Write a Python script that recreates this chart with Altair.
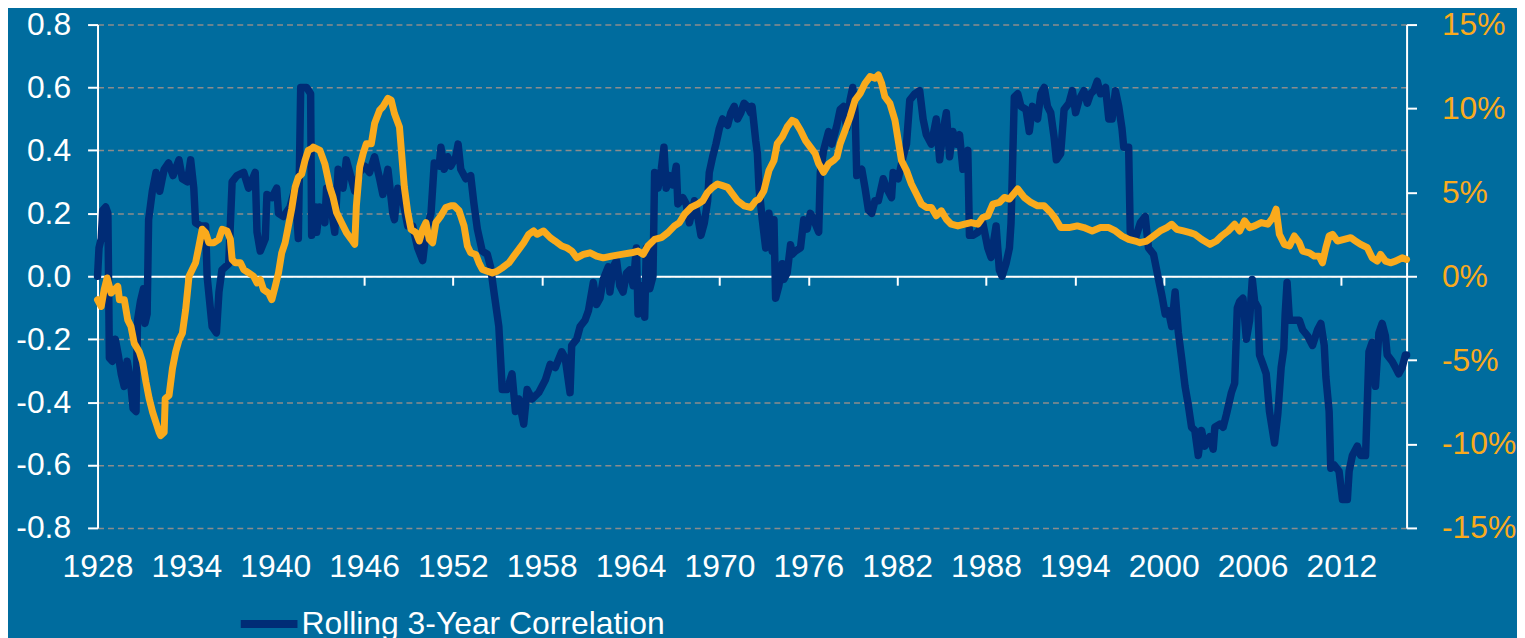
import altair as alt
import pandas as pd

# ---------------- data ----------------
corr_years = [
    1928.00, 1928.10, 1928.25, 1928.35, 1928.55, 1928.70, 1928.80, 1929.00, 1929.20, 1929.40,
    1929.60, 1929.80, 1930.00, 1930.20, 1930.40, 1930.60, 1930.70, 1930.90, 1931.10, 1931.20,
    1931.35, 1931.45, 1931.70, 1931.95, 1932.20, 1932.50, 1932.80, 1933.10, 1933.50, 1933.73,
    1934.07, 1934.29, 1934.50, 1934.62, 1934.96, 1935.30, 1935.40, 1935.74, 1936.03, 1936.20,
    1936.40, 1936.86, 1937.09, 1937.42, 1937.87, 1938.20, 1938.65, 1938.77, 1938.99, 1939.33,
    1939.44, 1939.77, 1940.10, 1940.22, 1940.56, 1941.00, 1941.34, 1941.56, 1941.72, 1942.12,
    1942.39, 1942.46, 1942.70, 1942.80, 1943.00, 1943.35, 1943.47, 1943.80, 1944.02, 1944.25,
    1944.58, 1944.80, 1945.14, 1945.37, 1945.70, 1946.04, 1946.37, 1946.71, 1947.05, 1947.27,
    1947.61, 1947.94, 1948.05, 1948.28, 1948.61, 1948.95, 1949.28, 1949.62, 1949.96, 1950.18,
    1950.52, 1950.74, 1951.07, 1951.19, 1951.41, 1951.64, 1951.86, 1952.19, 1952.35, 1952.53,
    1952.87, 1953.20, 1953.42, 1953.65, 1953.98, 1954.32, 1954.54, 1954.77, 1955.10, 1955.33,
    1955.66, 1955.99, 1956.22, 1956.45, 1956.78, 1957.01, 1957.34, 1957.79, 1958.24, 1958.57,
    1958.91, 1959.35, 1959.58, 1959.91, 1960.02, 1960.36, 1960.59, 1960.92, 1961.15, 1961.48,
    1961.70, 1961.93, 1962.15, 1962.49, 1962.60, 1962.82, 1963.05, 1963.27, 1963.49, 1963.72,
    1963.94, 1964.17, 1964.39, 1964.50, 1964.73, 1964.95, 1965.06, 1965.29, 1965.51, 1965.62,
    1965.85, 1966.07, 1966.25, 1966.40, 1966.63, 1966.85, 1967.08, 1967.19, 1967.52, 1967.75,
    1967.97, 1968.31, 1968.53, 1968.75, 1968.98, 1969.20, 1969.31, 1969.54, 1969.76, 1969.99,
    1970.21, 1970.55, 1970.77, 1971.00, 1971.22, 1971.44, 1971.66, 1971.89, 1972.11, 1972.20,
    1972.45, 1972.56, 1972.67, 1972.89, 1973.12, 1973.34, 1973.56, 1973.68, 1973.79, 1974.01,
    1974.24, 1974.35, 1974.57, 1974.80, 1974.91, 1975.13, 1975.47, 1975.69, 1975.92, 1976.14,
    1976.36, 1976.70, 1976.81, 1977.03, 1977.37, 1977.59, 1977.93, 1978.15, 1978.38, 1978.60,
    1978.82, 1979.00, 1979.16, 1979.27, 1979.61, 1979.83, 1980.06, 1980.28, 1980.50, 1980.73,
    1981.06, 1981.29, 1981.62, 1981.73, 1982.07, 1982.40, 1982.63, 1982.85, 1983.19, 1983.52,
    1983.75, 1983.97, 1984.31, 1984.64, 1984.87, 1985.09, 1985.32, 1985.54, 1985.76, 1985.99,
    1986.21, 1986.44, 1986.77, 1986.88, 1987.11, 1987.45, 1987.78, 1988.12, 1988.34, 1988.68,
    1988.90, 1989.08, 1989.35, 1989.58, 1989.69, 1989.80, 1989.91, 1990.14, 1990.36, 1990.70,
    1990.92, 1991.14, 1991.48, 1991.70, 1991.93, 1992.15, 1992.37, 1992.60, 1992.75, 1993.04,
    1993.27, 1993.60, 1993.83, 1994.05, 1994.28, 1994.61, 1994.84, 1995.06, 1995.28, 1995.51,
    1995.73, 1996.07, 1996.29, 1996.51, 1996.74, 1996.96, 1997.18, 1997.30, 1997.63, 1997.74,
    1998.08, 1998.42, 1998.75, 1998.97, 1999.31, 1999.65, 1999.87, 2000.10, 2000.32, 2000.54,
    2000.77, 2000.99, 2001.21, 2001.44, 2001.66, 2001.88, 2002.10, 2002.33, 2002.55, 2002.78,
    2003.11, 2003.34, 2003.45, 2003.79, 2004.01, 2004.23, 2004.57, 2004.79, 2004.97, 2005.13,
    2005.35, 2005.58, 2005.80, 2005.98, 2006.14, 2006.36, 2006.47, 2006.70, 2006.92, 2007.14,
    2007.48, 2007.70, 2007.93, 2008.11, 2008.20, 2008.33, 2008.49, 2008.82, 2009.16, 2009.38,
    2009.72, 2010.05, 2010.39, 2010.61, 2010.84, 2010.95, 2011.17, 2011.28, 2011.51, 2011.84,
    2012.07, 2012.40, 2012.52, 2012.74, 2013.07, 2013.30, 2013.63, 2013.86, 2014.08, 2014.30,
    2014.53, 2014.75, 2014.97, 2015.09, 2015.42, 2015.65, 2015.87, 2016.10, 2016.32, 2016.40,
]
corr_values = [
    0.00, 0.09, 0.12, 0.21, 0.22, 0.20, -0.26, -0.27, -0.20, -0.25,
    -0.31, -0.35, -0.27, -0.32, -0.42, -0.43, -0.14, -0.08, -0.04, -0.15,
    -0.12, 0.18, 0.27, 0.33, 0.27, 0.34, 0.36, 0.32, 0.37, 0.31,
    0.30, 0.37, 0.28, 0.17, 0.16, 0.16, 0.00, -0.16, -0.18, -0.05,
    0.02, 0.04, 0.30, 0.32, 0.33, 0.28, 0.33, 0.14, 0.08, 0.12,
    0.26, 0.25, 0.28, 0.20, 0.19, 0.22, 0.28, 0.12, 0.60, 0.60,
    0.58, 0.13, 0.22, 0.14, 0.22, 0.17, 0.28, 0.21, 0.14, 0.34,
    0.28, 0.37, 0.31, 0.27, 0.33, 0.35, 0.33, 0.38, 0.31, 0.26,
    0.34, 0.20, 0.18, 0.28, 0.24, 0.16, 0.16, 0.09, 0.05, 0.14,
    0.20, 0.36, 0.35, 0.41, 0.34, 0.38, 0.35, 0.38, 0.42, 0.34,
    0.31, 0.32, 0.23, 0.15, 0.08, 0.07, 0.03, -0.05, -0.16, -0.36,
    -0.36, -0.31, -0.43, -0.39, -0.47, -0.36, -0.39, -0.37, -0.33, -0.28,
    -0.29, -0.24, -0.26, -0.37, -0.22, -0.20, -0.16, -0.14, -0.11, -0.02,
    -0.09, -0.07, -0.01, 0.03, -0.05, 0.03, 0.05, -0.03, -0.05, 0.01,
    0.02, -0.03, 0.09, -0.12, -0.03, -0.13, 0.09, -0.04, 0.00, 0.33,
    0.28, 0.34, 0.41, 0.28, 0.32, 0.29, 0.35, 0.23, 0.25, 0.23,
    0.17, 0.24, 0.19, 0.13, 0.17, 0.24, 0.33, 0.38, 0.42, 0.47,
    0.50, 0.48, 0.52, 0.54, 0.50, 0.52, 0.55, 0.54, 0.52, 0.54,
    0.43, 0.39, 0.28, 0.18, 0.09, 0.20, 0.08, 0.18, -0.07, -0.03,
    0.04, -0.01, 0.01, 0.10, 0.07, 0.08, 0.09, 0.18, 0.15, 0.20,
    0.18, 0.14, 0.33, 0.40, 0.46, 0.42, 0.48, 0.53, 0.54, 0.47,
    0.56, 0.60, 0.52, 0.32, 0.34, 0.28, 0.21, 0.20, 0.24, 0.24,
    0.31, 0.28, 0.25, 0.33, 0.31, 0.38, 0.42, 0.56, 0.58, 0.59,
    0.50, 0.45, 0.42, 0.50, 0.37, 0.46, 0.52, 0.38, 0.46, 0.42,
    0.45, 0.34, 0.40, 0.13, 0.13, 0.14, 0.17, 0.09, 0.06, 0.16,
    0.02, 0.00, 0.04, 0.09, 0.17, 0.37, 0.57, 0.58, 0.54, 0.53,
    0.46, 0.54, 0.50, 0.58, 0.60, 0.54, 0.52, 0.44, 0.37, 0.39,
    0.53, 0.55, 0.59, 0.52, 0.56, 0.59, 0.55, 0.58, 0.59, 0.62,
    0.58, 0.60, 0.50, 0.50, 0.59, 0.54, 0.47, 0.41, 0.41, 0.14,
    0.12, 0.17, 0.19, 0.09, 0.07, -0.01, -0.06, -0.12, -0.11, -0.16,
    -0.05, -0.18, -0.26, -0.35, -0.41, -0.48, -0.49, -0.57, -0.49, -0.54,
    -0.51, -0.55, -0.48, -0.47, -0.48, -0.44, -0.37, -0.34, -0.10, -0.08,
    -0.07, -0.20, -0.14, -0.01, -0.08, -0.10, -0.25, -0.28, -0.31, -0.43,
    -0.53, -0.44, -0.29, -0.23, -0.12, -0.02, -0.14, -0.14, -0.14, -0.17,
    -0.19, -0.22, -0.17, -0.15, -0.22, -0.32, -0.43, -0.61, -0.60, -0.62,
    -0.71, -0.71, -0.62, -0.57, -0.54, -0.57, -0.57, -0.24, -0.21, -0.35,
    -0.18, -0.15, -0.19, -0.25, -0.27, -0.29, -0.31, -0.29, -0.25, -0.25,
]

infl_years = [
    1928.00, 1928.25, 1928.45, 1928.65, 1928.92, 1929.14, 1929.37, 1929.48, 1929.81, 1930.04,
    1930.26, 1930.48, 1930.82, 1931.04, 1931.27, 1931.49, 1931.72, 1931.94, 1932.16, 1932.27,
    1932.50, 1932.57, 1932.83, 1933.06, 1933.28, 1933.50, 1933.73, 1933.95, 1934.18, 1934.40,
    1934.62, 1934.85, 1935.07, 1935.30, 1935.52, 1935.86, 1936.19, 1936.42, 1936.75, 1936.97,
    1937.09, 1937.31, 1937.65, 1937.87, 1938.21, 1938.54, 1938.77, 1938.99, 1939.21, 1939.55,
    1939.77, 1940.00, 1940.22, 1940.44, 1940.67, 1940.89, 1941.11, 1941.34, 1941.56, 1941.79,
    1942.01, 1942.23, 1942.46, 1942.57, 1943.02, 1943.35, 1943.69, 1943.91, 1944.14, 1944.47,
    1944.81, 1945.14, 1945.37, 1945.48, 1945.70, 1945.93, 1946.15, 1946.49, 1946.71, 1947.05,
    1947.27, 1947.61, 1947.83, 1948.05, 1948.39, 1948.50, 1948.72, 1948.95, 1949.17, 1949.51,
    1949.73, 1949.96, 1950.18, 1950.40, 1950.63, 1950.85, 1951.19, 1951.52, 1951.86, 1952.08,
    1952.42, 1952.75, 1952.98, 1953.20, 1953.54, 1953.76, 1953.99, 1954.32, 1954.66, 1954.99,
    1955.33, 1955.78, 1956.11, 1956.45, 1956.78, 1957.12, 1957.45, 1957.68, 1958.12, 1958.57,
    1958.90, 1959.35, 1959.69, 1960.03, 1960.36, 1960.81, 1961.26, 1961.70, 1962.15, 1962.71,
    1963.38, 1964.05, 1964.50, 1964.84, 1965.17, 1965.62, 1966.07, 1966.52, 1966.96, 1967.30,
    1967.64, 1968.08, 1968.53, 1968.87, 1969.20, 1969.54, 1969.87, 1970.21, 1970.55, 1970.88,
    1971.22, 1971.66, 1972.11, 1972.45, 1972.67, 1973.00, 1973.34, 1973.68, 1973.90, 1974.24,
    1974.57, 1974.91, 1975.13, 1975.47, 1975.80, 1976.14, 1976.47, 1976.70, 1977.03, 1977.37,
    1977.70, 1977.93, 1978.15, 1978.49, 1978.82, 1979.16, 1979.50, 1979.83, 1980.17, 1980.50,
    1980.73, 1980.95, 1981.17, 1981.51, 1981.85, 1982.07, 1982.29, 1982.63, 1982.96, 1983.30,
    1983.64, 1983.97, 1984.31, 1984.64, 1984.98, 1985.32, 1985.65, 1986.10, 1986.55, 1986.99,
    1987.45, 1987.78, 1988.12, 1988.46, 1988.90, 1989.24, 1989.58, 1990.14, 1990.58, 1991.03,
    1991.48, 1991.92, 1992.37, 1992.71, 1993.04, 1993.60, 1994.16, 1994.61, 1995.17, 1995.73,
    1996.29, 1996.74, 1997.18, 1997.63, 1998.08, 1998.40, 1998.86, 1999.31, 1999.76, 2000.21,
    2000.54, 2000.88, 2001.33, 2001.77, 2002.10, 2002.55, 2003.12, 2003.56, 2003.90, 2004.35,
    2004.79, 2005.13, 2005.46, 2005.80, 2006.14, 2006.58, 2007.03, 2007.37, 2007.59, 2007.81,
    2008.15, 2008.49, 2008.82, 2009.16, 2009.38, 2009.83, 2010.16, 2010.50, 2010.72, 2010.95,
    2011.17, 2011.40, 2011.73, 2012.18, 2012.63, 2012.96, 2013.30, 2013.75, 2014.08, 2014.42,
    2014.64, 2014.98, 2015.31, 2015.65, 2016.10, 2016.40,
]
infl_values = [
    -1.4, -1.8, -0.8, -0.1, -1.0, -0.8, -0.6, -1.4, -1.4, -2.6,
    -3.0, -4.0, -4.5, -5.1, -6.3, -7.3, -8.1, -8.7, -9.3, -9.5,
    -9.3, -7.3, -7.1, -5.5, -4.5, -3.8, -3.4, -2.0, 0.0, 0.4,
    0.8, 1.8, 2.8, 2.6, 2.0, 2.0, 2.2, 2.8, 2.7, 2.2,
    1.0, 0.8, 0.8, 0.4, 0.2, 0.0, -0.4, -0.2, -0.8, -1.0,
    -1.4, -0.6, 0.2, 1.4, 2.0, 3.0, 4.0, 5.3, 5.9, 6.1,
    6.9, 7.5, 7.6, 7.7, 7.5, 6.7, 5.3, 4.7, 3.8, 3.2,
    2.6, 2.2, 1.9, 4.2, 6.5, 7.3, 7.9, 7.9, 9.1, 9.9,
    10.1, 10.6, 10.5, 9.7, 8.9, 7.7, 5.3, 3.8, 2.8, 2.6,
    2.1, 2.8, 3.2, 2.2, 2.0, 3.2, 3.6, 4.1, 4.2, 4.2,
    3.9, 3.0, 1.8, 1.4, 1.3, 0.8, 0.4, 0.3, 0.2, 0.3,
    0.5, 0.8, 1.2, 1.6, 2.0, 2.5, 2.7, 2.5, 2.7, 2.3,
    2.1, 1.8, 1.7, 1.5, 1.1, 1.3, 1.4, 1.2, 1.1, 1.2,
    1.3, 1.4, 1.5, 1.3, 1.8, 2.2, 2.3, 2.6, 3.0, 3.2,
    3.7, 4.1, 4.3, 4.5, 5.0, 5.3, 5.5, 5.4, 5.3, 4.9,
    4.5, 4.2, 4.1, 4.5, 4.6, 5.1, 6.3, 6.9, 7.9, 8.3,
    8.9, 9.3, 9.2, 8.7, 8.1, 7.7, 7.3, 6.7, 6.2, 6.7,
    6.9, 7.1, 7.9, 8.7, 9.5, 10.5, 10.9, 11.5, 11.9, 11.8,
    12.0, 11.5, 10.7, 10.3, 9.3, 8.1, 6.9, 6.3, 5.5, 4.9,
    4.3, 4.1, 4.1, 3.6, 3.9, 3.4, 3.1, 3.0, 3.1, 3.2,
    3.1, 3.5, 3.6, 4.3, 4.4, 4.7, 4.6, 5.2, 4.7, 4.4,
    4.2, 4.2, 3.8, 3.4, 2.9, 2.9, 3.0, 2.9, 2.7, 2.9,
    2.9, 2.7, 2.4, 2.2, 2.1, 2.0, 2.1, 2.4, 2.7, 2.9,
    3.1, 2.8, 2.7, 2.6, 2.5, 2.2, 1.9, 2.1, 2.4, 2.7,
    3.1, 2.7, 3.3, 2.9, 3.0, 3.2, 3.1, 3.5, 4.0, 2.5,
    1.9, 1.8, 2.4, 2.0, 1.5, 1.4, 1.2, 1.2, 0.8, 1.7,
    2.4, 2.5, 2.1, 2.2, 2.3, 2.1, 1.9, 1.7, 1.1, 0.9,
    1.3, 0.9, 0.8, 0.9, 1.1, 1.0,
]

year_ticks = [1928, 1934, 1940, 1946, 1952, 1958, 1964, 1970, 1976, 1982, 1988, 1994, 2000, 2006, 2012]
corr_ticks = [-0.8, -0.6, -0.4, -0.2, 0.0, 0.2, 0.4, 0.6, 0.8]
pct_ticks = [-15, -10, -5, 0, 5, 10, 15]
series_name = "Rolling 3-Year Correlation"

# ---------------- styling ----------------
BG = "#006C9E"
NAVY = "#002C76"
ORANGE = "#FAAA1C"
GRID = "#8C8C8C"
FONT = "Liberation Sans"
FS = 32

corr_df = pd.DataFrame({"year": corr_years, "value": corr_values, "series": series_name})
infl_df = pd.DataFrame({"year": infl_years, "value": infl_values})

x_enc = alt.X(
    "year:Q",
    scale=alt.Scale(domain=[1928, 2016.4], nice=False, zero=False),
    axis=alt.Axis(
        values=year_ticks, format="d", title=None, grid=False,
        domainColor="white", domainWidth=2, tickColor="white", tickWidth=2, tickSize=9,
        labelColor="white", labelFont=FONT, labelFontSize=FS, labelPadding=268,
        labelFlush=False, labelOverlap=False, offset=-253,
    ),
)

y_left = alt.Y(
    "value:Q",
    scale=alt.Scale(domain=[-0.8, 0.8], nice=False, zero=False),
    axis=alt.Axis(
        values=corr_ticks, title=None, orient="left",
        grid=True, gridColor=GRID, gridDash=[6, 4], gridWidth=1.5,
        domainColor="white", domainWidth=2, tickColor="white", tickWidth=2, tickSize=10,
        labelColor="white", labelFont=FONT, labelFontSize=FS, labelPadding=17,
        labelExpr="(datum.value < -0.0001 ? '-' : '') + format(abs(datum.value), '.1f')",
    ),
)

y_right = alt.Y(
    "value:Q",
    scale=alt.Scale(domain=[-15, 15], nice=False, zero=False),
    axis=alt.Axis(
        values=pct_ticks, title=None, orient="right", grid=False,
        domainColor="white", domainWidth=2, tickColor="white", tickWidth=2, tickSize=10,
        labelColor=ORANGE, labelFont=FONT, labelFontSize=FS, labelPadding=25,
        labelExpr="(datum.value < 0 ? '-' : '') + format(abs(datum.value), 'd') + '%'",
    ),
)

navy = alt.Chart(corr_df).mark_line(
    strokeWidth=7.5, strokeJoin="round", strokeCap="round"
).encode(
    x=x_enc,
    y=y_left,
    color=alt.Color(
        "series:N",
        scale=alt.Scale(domain=[series_name], range=[NAVY]),
        legend=alt.Legend(
            title=None, orient="none", legendX=140, legendY=570, padding=0,
            symbolType="stroke", symbolStrokeWidth=8, symbolSize=3249,
            labelFont=FONT, labelFontSize=FS, labelColor="white", labelOffset=0,
            labelLimit=0,
        ),
    ),
)

orange = alt.Chart(infl_df).mark_line(
    strokeWidth=7, strokeJoin="round", strokeCap="round", color=ORANGE
).encode(x=x_enc, y=y_right)

chart = (
    alt.layer(navy, orange)
    .resolve_scale(y="independent")
    .properties(
        width=1316, height=506, background=BG,
        padding={"left": 90, "top": 15, "right": 111, "bottom": 111},
        autosize=alt.AutoSizeParams(type="none"),
    )
    .configure_view(stroke=None)
)

chart.save("out.html", embed_options={"renderer": "svg", "actions": False})
